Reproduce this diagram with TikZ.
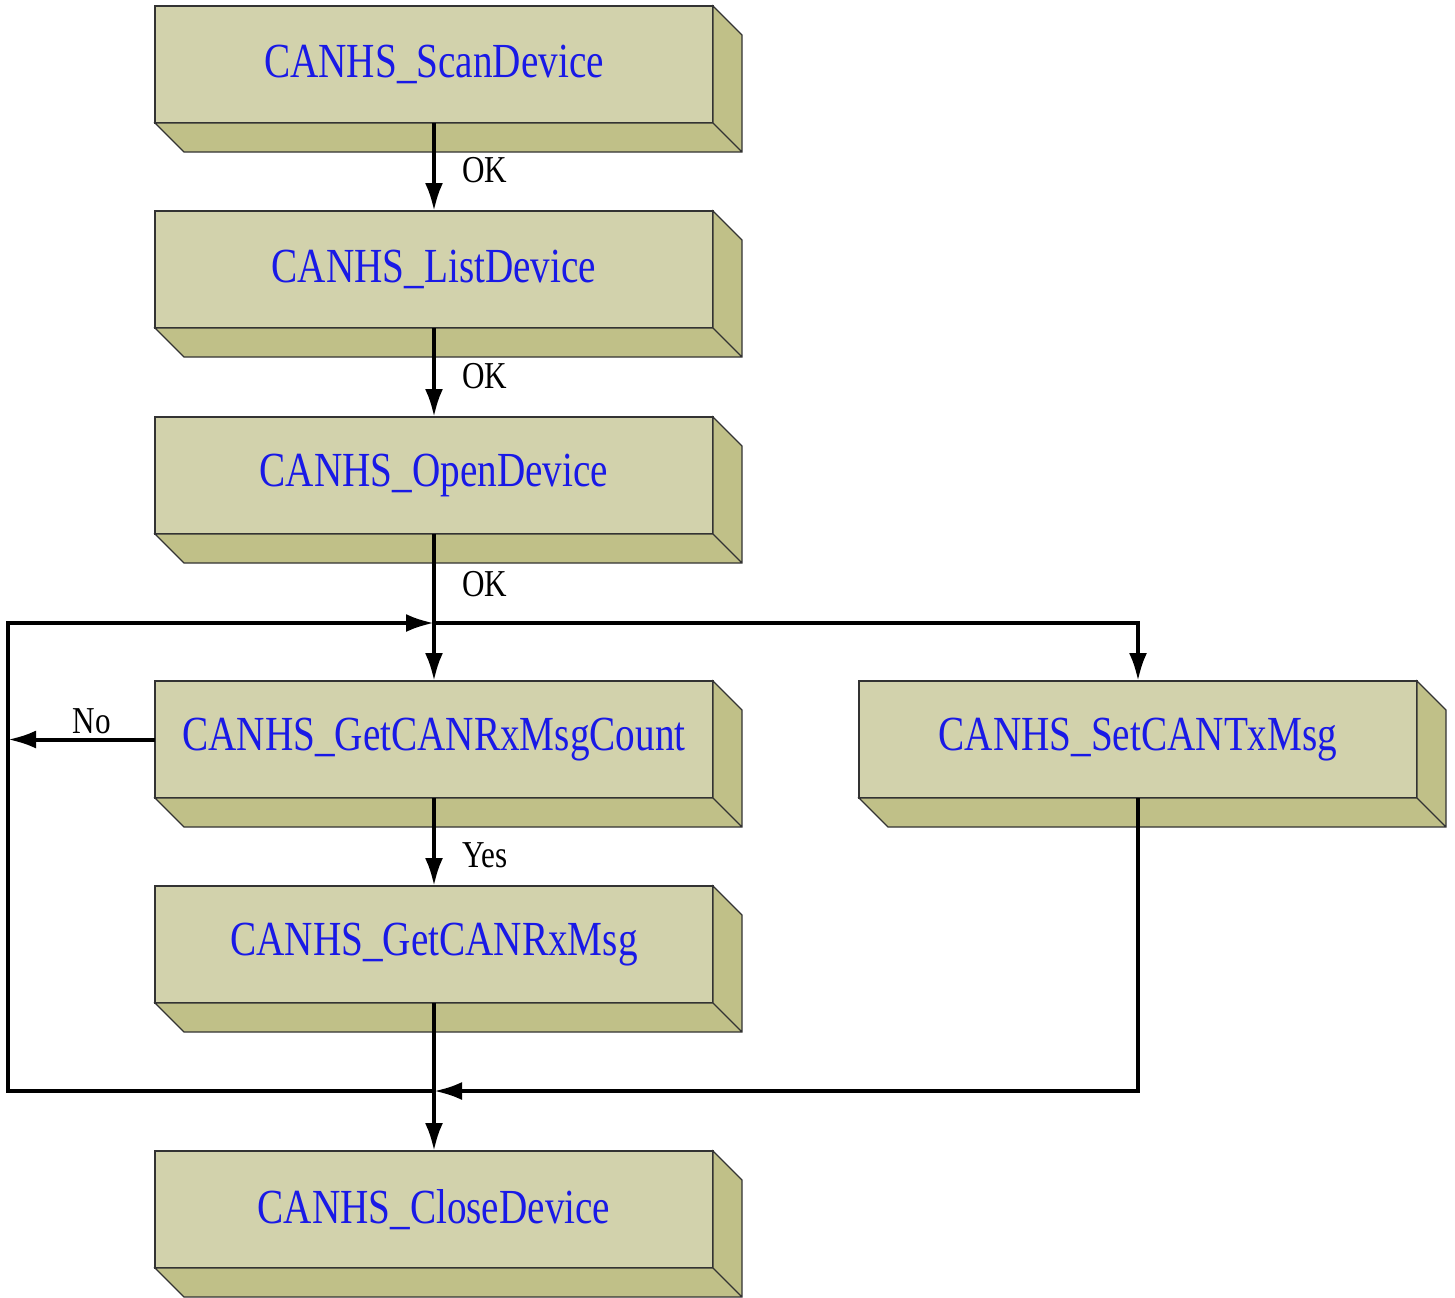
\documentclass[tikz,border=0pt]{standalone}
\usepackage{fontspec}
\setmainfont{Liberation Serif}
\newfontfamily\boxfont[FakeStretch=0.8]{Liberation Serif}
\newfontfamily\lblfont[FakeStretch=0.82]{Liberation Serif}
\usetikzlibrary{positioning, arrows.meta}
\definecolor{frontc}{RGB}{210,210,172}
\definecolor{sidec}{RGB}{192,192,136}
\definecolor{textc}{RGB}{25,25,230}

\begin{document}
\begin{tikzpicture}[node distance = 44pt and 73pt,
        box/.style = {draw=black!80, line width=0.6pt, fill=frontc, minimum width=279pt,
                      minimum height=58.5pt, inner sep=0pt, outer sep=0pt, text=textc,
                      font=\boxfont\fontsize{24.5}{28}\selectfont},
        side/.style = {draw=black!80, line width=0.6pt, fill=sidec},
        arr/.style = {line width=2pt, -{Latex[length=14pt,width=9pt]}},
        lbl/.style = {inner sep=2pt, font=\lblfont\fontsize{19}{22}\selectfont}]
        \useasboundingbox (0,0) rectangle (727.5pt,-648.5pt);
        % boxes
        \node (scan) [box] at (217pt,-32.25pt) {CANHS\_ScanDevice};
        \node (list) [box, below=of scan] {CANHS\_ListDevice};
        \node (open) [box, below=44.5pt of list] {CANHS\_OpenDevice};
        \node (count) [box, below=73.5pt of open] {CANHS\_GetCANRxMsgCount};
        \node (txmsg) [box, right=of count] {CANHS\_SetCANTxMsg};
        \node (rxmsg) [box, below=of count] {CANHS\_GetCANRxMsg};
        \node (close) [box, below=74pt of rxmsg] {CANHS\_CloseDevice};
        % depth
        \foreach \n in {scan,list,open,count,txmsg,rxmsg,close}
            \draw[side] (\n.north east) -- ++(14.5pt,-14.5pt)
                -- ([shift={(14.5pt,-14.5pt)}]\n.south east)
                -- ([shift={(14.5pt,-14.5pt)}]\n.south west)
                -- (\n.south west) -- (\n.south east) -- cycle
                (\n.south east) -- ++(14.5pt,-14.5pt);
        % junctions
        \coordinate[below=44.5pt of open.south]  (j1);
        \coordinate[below=44pt of rxmsg.south]  (j2);
        \coordinate[left=213pt of j1]  (l1);
        % flow
        \foreach \a/\b/\t/\s in {scan/list/OK/1.5, list/open/OK/2, count/rxmsg/Yes/6.5}
            \draw[arr]  (\a) -- (\b) node[lbl, midway, right=11pt, yshift=-\s pt] {\t};
        \draw[line width=2pt]  (open) -- (j1) node[lbl, midway, right=11pt, yshift=-3pt] {OK};
        \draw[arr]  (j1) -- (count);
        \draw[arr]  (j1) -| (txmsg);
        \draw[arr]  (count.west) -- (count.west -| l1) node[lbl, pos=0.43, above] {No};
        \draw[arr]  (j2) -| (l1) -- (j1);
        \draw[arr]  (txmsg) |- (j2);
        \draw[arr]  (rxmsg) -- (close);
        %
\end{tikzpicture}
\end{document}
